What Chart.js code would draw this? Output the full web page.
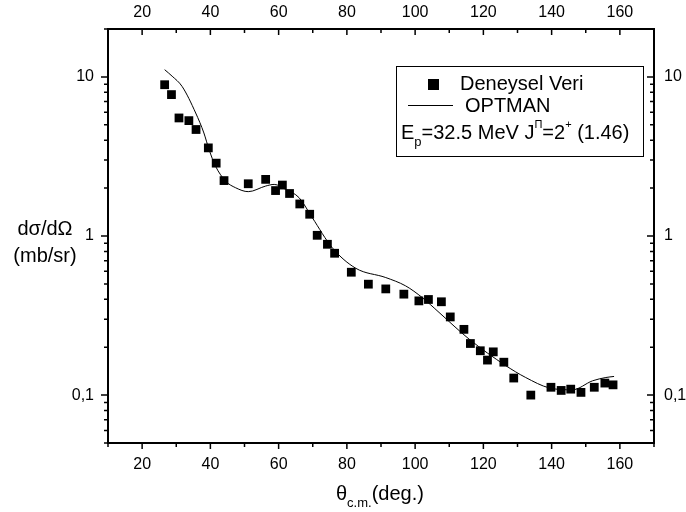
<!DOCTYPE html>
<html>
<head>
<meta charset="utf-8">
<script src="https://cdn.jsdelivr.net/npm/chart.js@4/dist/chart.umd.min.js"></script>
<style>
  html, body { margin: 0; padding: 0; background: #fff; }
  #wrap { width: 686px; height: 512px; }
</style>
</head>
<body>
<div id="wrap"><canvas id="myChart" width="686" height="512"></canvas></div>
<script>
// measured points (Deneysel Veri)
let expAngle = [26.6, 28.6, 30.8, 33.7, 35.8, 39.4, 41.7, 44.0, 51.1, 56.2, 59.1, 61.1, 63.2, 66.2, 69.1, 71.3, 74.3, 76.4, 81.3, 86.3, 91.4, 96.7, 101.1, 103.9, 107.7, 110.3, 114.3, 116.2, 119.1, 121.2, 122.9, 126.0, 128.9, 133.9, 139.8, 142.8, 145.6, 148.6, 152.5, 155.6, 158.0];
let expSigma = [8.93, 7.74, 5.52, 5.31, 4.67, 3.58, 2.87, 2.23, 2.13, 2.27, 1.93, 2.09, 1.85, 1.59, 1.37, 1.01, 0.887, 0.779, 0.592, 0.498, 0.465, 0.431, 0.391, 0.399, 0.386, 0.310, 0.259, 0.211, 0.190, 0.166, 0.187, 0.161, 0.128, 0.100, 0.112, 0.107, 0.109, 0.104, 0.112, 0.119, 0.116];

// OPTMAN curve
let calcAngle = [26.6, 28.8, 31.7, 35.7, 38.1, 39.6, 41.5, 44.5, 47.4, 51.1, 56.2, 58.7, 62.1, 66.0, 69.9, 75.7, 82.6, 91.4, 97.2, 102.1, 107.0, 115.8, 126.6, 132.4, 139.3, 146.1, 152.0, 155.9, 158.3];
let calcSigma = [11.1, 10.1, 8.72, 5.93, 4.44, 3.50, 2.75, 2.21, 2.01, 1.90, 2.06, 2.11, 1.96, 1.74, 1.30, 0.845, 0.627, 0.548, 0.486, 0.410, 0.331, 0.225, 0.153, 0.129, 0.111, 0.108, 0.123, 0.129, 0.131];

let xMajor = [20, 40, 60, 80, 100, 120, 140, 160];
let xMinor = [10, 30, 50, 70, 90, 110, 130, 150, 170];
let yMajor = [0.1, 1, 10];
let yTickLabels = ['0,1', '1', '10'];
let yMinor = [0.05, 0.06, 0.07, 0.08, 0.09, 0.2, 0.3, 0.4, 0.5, 0.6, 0.7, 0.8, 0.9, 2, 3, 4, 5, 6, 7, 8, 9, 20];

let FONT = '"Liberation Sans", Arial, Helvetica, sans-serif';

let expPts = expAngle.map((a, i) => ({ x: a, y: expSigma[i] }));
let calcPts = calcAngle.map((a, i) => ({ x: a, y: calcSigma[i] }));

// tick marks: left/bottom out, top/right in
let tickPlugin = {
  id: 'tickMarks',
  afterDraw(chart) {
    let ctx = chart.ctx;
    let a = chart.chartArea;
    ctx.save();
    ctx.strokeStyle = '#000';
    ctx.lineWidth = 1.5;
    let xs = chart.scales.x;
    let ys = chart.scales.y;
    let mark = (vals, len) => {
      vals.forEach(v => {
        let px = xs.getPixelForValue(v);
        ctx.beginPath();
        ctx.moveTo(px, a.bottom); ctx.lineTo(px, a.bottom + len);
        ctx.moveTo(px, a.top); ctx.lineTo(px, a.top + len);
        ctx.stroke();
      });
    };
    mark(xMajor, 6);
    mark(xMinor, 4);
    let markY = (vals, len) => {
      vals.forEach(v => {
        let py = ys.getPixelForValue(v);
        ctx.beginPath();
        ctx.moveTo(a.left, py); ctx.lineTo(a.left - len, py);
        ctx.moveTo(a.right, py); ctx.lineTo(a.right - len, py);
        ctx.stroke();
      });
    };
    markY(yMajor, 7);
    markY(yMinor, 4);
    ctx.restore();
  }
};

// draws a run of text pieces, some sub/superscript
function drawRich(ctx, x, y, parts) {
  parts.forEach(p => {
    let size = p.s == 'sub' ? 13 : (p.s == 'sup' ? 11 : 20);
    ctx.font = size + 'px ' + FONT;
    let dy = p.s == 'sub' ? 9 : (p.s == 'sup' ? -8 : 0);
    ctx.fillText(p.t, x, y + dy);
    x += ctx.measureText(p.t).width;
  });
}

let textPlugin = {
  id: 'texts',
  afterDraw(chart) {
    let ctx = chart.ctx;
    ctx.save();
    ctx.fillStyle = '#000';
    ctx.textBaseline = 'middle';

    // y title
    ctx.font = '20px ' + FONT;
    ctx.textAlign = 'center';
    ctx.fillText('dσ/dΩ', 45, 229);
    ctx.fillText('(mb/sr)', 45, 256);

    // x title
    ctx.textAlign = 'left';
    drawRich(ctx, 336, 494, [{ t: 'θ' }, { t: 'c.m.', s: 'sub' }, { t: '(deg.)' }]);

    // legend box
    ctx.strokeStyle = '#000';
    ctx.lineWidth = 1;
    ctx.strokeRect(396.5, 66.5, 247, 90);
    ctx.fillRect(428, 79, 11, 11);
    ctx.beginPath();
    ctx.moveTo(408, 105.5); ctx.lineTo(453, 105.5);
    ctx.stroke();
    ctx.font = '20px ' + FONT;
    ctx.fillText('Deneysel Veri', 460, 84);
    ctx.fillText('OPTMAN', 465, 106);
    drawRich(ctx, 401, 133, [
      { t: 'E' }, { t: 'p', s: 'sub' }, { t: '=32.5 MeV J' }, { t: 'Π', s: 'sup' },
      { t: '=2' }, { t: '+', s: 'sup' }, { t: ' (1.46)' }
    ]);
    ctx.restore();
  }
};

let xAxis = (pos, h, pad) => ({
  type: 'linear',
  position: pos,
  min: 10,
  max: 170,
  afterBuildTicks: s => { s.ticks = xMajor.map(v => ({ value: v })); },
  afterFit: s => { s.height = h; },
  grid: { display: false, drawTicks: false },
  border: { display: true, color: '#000', width: 2 },
  ticks: { color: '#000', padding: pad, autoSkip: false, maxRotation: 0, font: { family: FONT, size: 16 } }
});

let yAxis = (pos, w, pad) => ({
  type: 'logarithmic',
  position: pos,
  min: 0.05,
  max: 20,
  afterBuildTicks: s => { s.ticks = yMajor.map(v => ({ value: v })); },
  afterFit: s => { s.width = w; },
  grid: { display: false, drawTicks: false },
  border: { display: true, color: '#000', width: 2 },
  ticks: {
    color: '#000', padding: pad, autoSkip: false,
    font: { family: FONT, size: 16 },
    callback: (v, i) => yTickLabels[i]
  }
});

new Chart('myChart', {
  type: 'scatter',
  data: {
    datasets: [
      {
        label: 'Deneysel Veri',
        data: expPts,
        pointStyle: 'rect',
        pointRadius: 6.2,
        pointBorderWidth: 0,
        backgroundColor: '#000',
        borderColor: '#000',
        showLine: false,
        xAxisID: 'x',
        yAxisID: 'y'
      },
      {
        label: 'OPTMAN',
        data: calcPts,
        showLine: true,
        pointRadius: 0,
        borderColor: '#000',
        borderWidth: 1,
        cubicInterpolationMode: 'monotone',
        xAxisID: 'x',
        yAxisID: 'y'
      }
    ]
  },
  options: {
    responsive: false,
    animation: false,
    layout: { padding: 0 },
    plugins: { legend: { display: false }, tooltip: { enabled: false } },
    scales: {
      x: xAxis('bottom', 69, 12),
      x2: xAxis('top', 29, 7),
      y: yAxis('left', 108, 14),
      y2: yAxis('right', 32, 10)
    }
  },
  plugins: [tickPlugin, textPlugin]
});
</script>
</body>
</html>
